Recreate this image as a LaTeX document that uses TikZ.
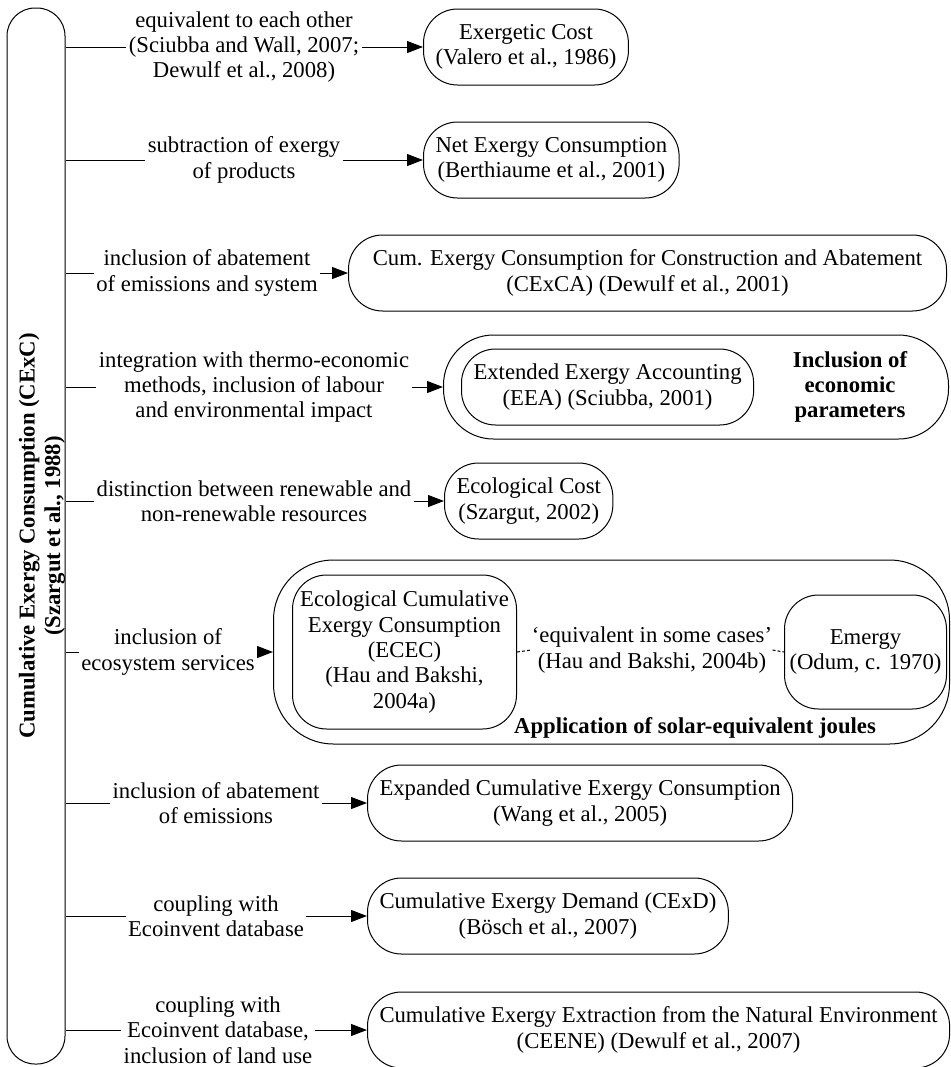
\documentclass[tikz,border=0pt]{standalone}
\usepackage{fontspec}
\setmainfont{Liberation Serif}
\usetikzlibrary{positioning, arrows.meta, shapes}

\tikzset{
  refbox/.style={draw, rounded corners=17pt, align=center, minimum height=38pt, inner xsep=6pt},
  grpbox/.style={draw, rounded corners=25pt},
  lbl/.style={align=center, inner sep=1pt},
  arr/.style={-{Triangle[length=8pt,width=6pt]}},
  eqline/.style={dash pattern=on 1.5pt off 1pt},
}

\begin{document}
\begin{tikzpicture}[x=0.5pt, y=-0.5pt, line width=0.5pt,
    every node/.style={font=\fontsize{11.35pt}{12.7pt}\selectfont}]
    \useasboundingbox (0,0) rectangle (950,1067);
    % CExC and the methods derived from it
    \node[draw, rounded corners=14pt, minimum width=29pt, minimum height=528pt] (cexc) at (36,536) {};
    \node[rotate=90, align=center, font=\fontsize{11.35pt}{12.7pt}\selectfont\bfseries] (cexctxt) at (42,536)
      {Cumulative Exergy Consumption (CExC)\\(Szargut et al., 1988)};

    % groups
    \node[grpbox, minimum width=252.5pt, minimum height=52pt, anchor=west] (econ) at (443,387) {};
    \node[grpbox, rounded corners=30pt, minimum width=338pt, minimum height=92pt, anchor=west] (solar) at (273,652) {};

    % methods
    \node[refbox, anchor=west] (excost) at (423,47) {Exergetic Cost\\(Valero et al., 1986)};
    \node[refbox, anchor=west] (netex) at (423,160) {Net Exergy Consumption\\(Berthiaume et al., 2001)};
    \node[refbox, anchor=west, minimum width=299pt] (cexca) at (348,273) {Cum. Exergy Consumption for Construction and Abatement\\(CExCA) (Dewulf et al., 2001)};
    \node[refbox, anchor=west] (eea) at (461,387) {Extended Exergy Accounting\\(EEA) (Sciubba, 2001)};
    \node[align=center, font=\fontsize{11.35pt}{12.7pt}\selectfont\bfseries] (econtxt) at (850,387) {Inclusion of\\economic\\parameters};
    \node[refbox, anchor=west] (ecocost) at (444,501) {Ecological Cost\\(Szargut, 2002)};
    \node[refbox, anchor=west, minimum width=112pt, minimum height=77pt, inner xsep=2pt] (ecec) at (292,652)
      {Ecological Cumulative\\Exergy Consumption\\(ECEC)\\(Hau and Bakshi,\\2004a)};
    \node[refbox, anchor=west, minimum width=81pt, minimum height=57pt, inner xsep=2pt] (emergy) at (784,652) {Emergy\\(Odum, c. 1970)};
    \node[lbl, inner sep=0pt] (equiv) at (652,650) {`equivalent in some cases'\\(Hau and Bakshi, 2004b)};
    \node[font=\fontsize{11.35pt}{12.7pt}\selectfont\bfseries] (solartxt) at (695,728) {Application of solar-equivalent joules};
    \node[refbox, anchor=west] (expcexc) at (367,803) {Expanded Cumulative Exergy Consumption\\(Wang et al., 2005)};
    \node[refbox, anchor=west] (cexd) at (367,916) {Cumulative Exergy Demand (CExD)\\(B\"osch et al., 2007)};
    \node[refbox, anchor=west] (ceene) at (367,1030) {Cumulative Exergy Extraction from the Natural Environment\\(CEENE) (Dewulf et al., 2007)};

    % labels on the links
    \node[lbl] (l1) at (244,47) {equivalent to each other\\(Sciubba and Wall, 2007;\\Dewulf et al., 2008)};
    \node[lbl] (l2) at (244,160) {subtraction of exergy\\of products};
    \node[lbl] (l3) at (207,273) {inclusion of abatement\\of emissions and system};
    \node[lbl] (l4) at (254,387) {integration with thermo-economic\\methods, inclusion of labour\\and environmental impact};
    \node[lbl] (l5) at (254,501) {distinction between renewable and\\non-renewable resources};
    \node[lbl] (l6) at (168,652) {inclusion of\\ecosystem services};
    \node[lbl] (l7) at (216,803) {inclusion of abatement\\of emissions};
    \node[lbl] (l8) at (216,916) {coupling with\\Ecoinvent database};
    \node[lbl] (l9) at (218,1030) {coupling with\\Ecoinvent database,\\inclusion of land use};

    % links
    \draw (cexc.east |- l1.west) -- (l1.west);
    \draw[arr] (l1.east) -- (excost.west);
    \draw (cexc.east |- l2.west) -- (l2.west);
    \draw[arr] (l2.east) -- (netex.west);
    \draw (cexc.east |- l3.west) -- (l3.west);
    \draw[arr] (l3.east) -- (cexca.west);
    \draw (cexc.east |- l4.west) -- (l4.west);
    \draw[arr] (l4.east) -- (econ.west);
    \draw (cexc.east |- l5.west) -- (l5.west);
    \draw[arr] (l5.east) -- (ecocost.west);
    \draw (cexc.east |- l6.west) -- (l6.west);
    \draw[arr] (l6.east) -- (solar.west);
    \draw (cexc.east |- l7.west) -- (l7.west);
    \draw[arr] (l7.east) -- (expcexc.west);
    \draw (cexc.east |- l8.west) -- (l8.west);
    \draw[arr] (l8.east) -- (cexd.west);
    \draw (cexc.east |- l9.west) -- (l9.west);
    \draw[arr] (l9.east) -- (ceene.west);
    \draw[eqline] (ecec.east) -- (equiv.west);
    \draw[eqline] (equiv.east) -- (emergy.west);
\end{tikzpicture}
\end{document}
